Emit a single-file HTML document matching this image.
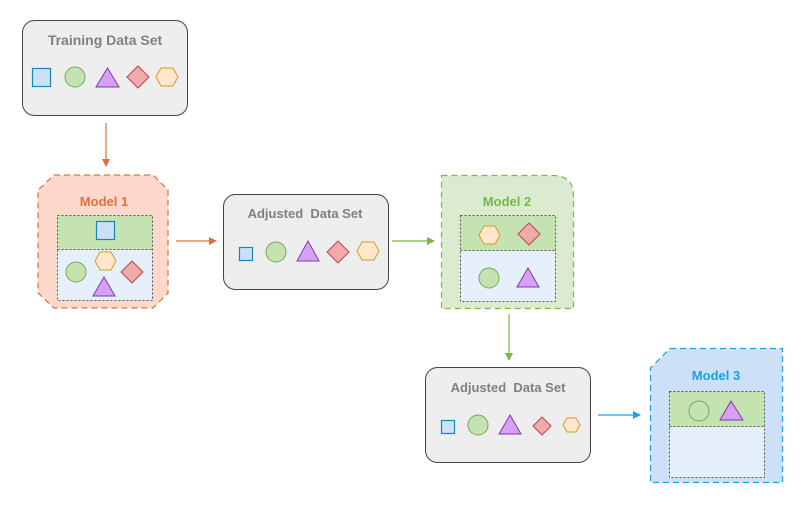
<!DOCTYPE html>
<html><head><meta charset="utf-8"><style>
html,body{margin:0;padding:0;background:#fff;width:806px;height:505px;overflow:hidden}
text{font-family:"Liberation Sans",sans-serif;font-weight:bold;text-anchor:middle}
</style></head><body>
<svg width="806" height="505" viewBox="0 0 806 505" xmlns="http://www.w3.org/2000/svg">
<defs>
<marker id="ao" markerWidth="8" markerHeight="8" refX="7" refY="4" orient="auto" markerUnits="userSpaceOnUse"><path d="M0,0 L8,4 L0,8 Z" fill="#E07040"/></marker>
<marker id="ag" markerWidth="8" markerHeight="8" refX="7" refY="4" orient="auto" markerUnits="userSpaceOnUse"><path d="M0,0 L8,4 L0,8 Z" fill="#7AB648"/></marker>
<marker id="ab" markerWidth="8" markerHeight="8" refX="7" refY="4" orient="auto" markerUnits="userSpaceOnUse"><path d="M0,0 L8,4 L0,8 Z" fill="#1BA1E2"/></marker>
</defs>

<rect x="22.5" y="20.5" width="165" height="95" rx="12" fill="#EEEEEE" stroke="#444" stroke-width="1"/>
<text x="105" y="45" font-size="14" fill="#808080">Training Data Set</text>
<rect x="32.5" y="68.5" width="18" height="18" fill="#CCE1F7" stroke="#1B84B8" stroke-width="1.2"/>
<circle cx="75" cy="77" r="10" fill="#C5E3B0" stroke="#78A85A"/>
<polygon points="107.5,68 119,87 96,87" fill="#D8A0F5" stroke="#7D3BA8"/>
<polygon points="138,66 149,77 138,88 127,77" fill="#F0AAAA" stroke="#B8484F"/>
<polygon points="161,68 173,68 178,77 173,86 161,86 156,77" fill="#FFE6CC" stroke="#D49B2A"/>

<line x1="106" y1="123" x2="106" y2="166" stroke="#E07040" stroke-width="1.2" marker-end="url(#ao)"/>

<polygon points="54,175 153,175 168,190 168,293 153,308 54,308 38,293 38,190" fill="#FFD8CC" stroke="#E07040" stroke-width="1.2" stroke-dasharray="6,4"/>
<text x="104" y="206" font-size="13" fill="#E07040">Model 1</text>
<rect x="57.5" y="215.5" width="95" height="34" fill="#C5E3B0"/>
<rect x="57.5" y="249.5" width="95" height="51" fill="#E6F0FA"/>
<rect x="57.5" y="215.5" width="95" height="85" fill="none" stroke="#555" stroke-dasharray="2,2"/>
<line x1="57.5" y1="249.5" x2="152.5" y2="249.5" stroke="#555" stroke-dasharray="2,2"/>
<rect x="96.5" y="221.5" width="18" height="18" fill="#CCE1F7" stroke="#1B84B8" stroke-width="1.2"/>
<polygon points="100,252 111,252 116,261 111,270 100,270 95,261" fill="#FFE6CC" stroke="#D49B2A"/>
<circle cx="76" cy="272" r="10" fill="#C5E3B0" stroke="#78A85A"/>
<polygon points="132,261 143,272 132,283 121,272" fill="#F0AAAA" stroke="#B8484F"/>
<polygon points="104,277 115,296 93,296" fill="#D8A0F5" stroke="#7D3BA8"/>

<line x1="176" y1="241" x2="216" y2="241" stroke="#E07040" stroke-width="1.2" marker-end="url(#ao)"/>

<rect x="223.5" y="194.5" width="165" height="95" rx="12" fill="#EEEEEE" stroke="#444"/>
<text x="305" y="218" font-size="13" fill="#808080">Adjusted&#160; Data Set</text>
<rect x="239.5" y="247.5" width="13" height="13" fill="#CCE1F7" stroke="#1B84B8" stroke-width="1.2"/>
<circle cx="276" cy="252" r="10" fill="#C5E3B0" stroke="#78A85A"/>
<polygon points="308,241 319,261 297,261" fill="#D8A0F5" stroke="#7D3BA8"/>
<polygon points="338,241 349,252 338,263 327,252" fill="#F0AAAA" stroke="#B8484F"/>
<polygon points="362,242 374,242 379,251 374,260 362,260 357,251" fill="#FFE6CC" stroke="#D49B2A"/>

<line x1="392" y1="241" x2="434" y2="241" stroke="#7AB648" stroke-width="1.2" marker-end="url(#ag)"/>

<path d="M441.5,175.5 L553,175.5 Q573.5,175.5 573.5,196 L573.5,308.5 L441.5,308.5 Z" fill="#DAEBD0" stroke="#7AB648" stroke-width="1.2" stroke-dasharray="6,4"/>
<text x="507" y="206" font-size="13" fill="#7AB648">Model 2</text>
<rect x="460.5" y="215.5" width="95" height="35" fill="#C5E3B0"/>
<rect x="460.5" y="250.5" width="95" height="51" fill="#E6F0FA"/>
<rect x="460.5" y="215.5" width="95" height="86" fill="none" stroke="#555" stroke-dasharray="2,2"/>
<line x1="460.5" y1="250.5" x2="555.5" y2="250.5" stroke="#555" stroke-dasharray="2,2"/>
<polygon points="484,226 495,226 500,235 495,244 484,244 479,235" fill="#FFE6CC" stroke="#D49B2A"/>
<polygon points="529,223 540,234 529,245 518,234" fill="#F0AAAA" stroke="#B8484F"/>
<circle cx="489" cy="278" r="10" fill="#C5E3B0" stroke="#78A85A"/>
<polygon points="528,268 539,287 517,287" fill="#D8A0F5" stroke="#7D3BA8"/>

<line x1="509" y1="314" x2="509" y2="360" stroke="#7AB648" stroke-width="1.2" marker-end="url(#ag)"/>

<rect x="425.5" y="367.5" width="165" height="95" rx="12" fill="#EEEEEE" stroke="#444"/>
<text x="508" y="392" font-size="13" fill="#808080">Adjusted&#160; Data Set</text>
<rect x="441.5" y="420.5" width="13" height="13" fill="#CCE1F7" stroke="#1B84B8" stroke-width="1.2"/>
<circle cx="478" cy="425" r="10" fill="#C5E3B0" stroke="#78A85A"/>
<polygon points="510,415 521,434 499,434" fill="#D8A0F5" stroke="#7D3BA8"/>
<polygon points="542,417 551,426 542,435 533,426" fill="#F0AAAA" stroke="#B8484F"/>
<polygon points="567,418 576,418 580,425 576,432 567,432 563,425" fill="#FFE6CC" stroke="#D49B2A"/>

<line x1="598" y1="415" x2="640" y2="415" stroke="#1BA1E2" stroke-width="1.2" marker-end="url(#ab)"/>

<polygon points="670,348.5 782.5,348.5 782.5,482.5 650.5,482.5 650.5,368" fill="#CCE1F7" stroke="#1BA1E2" stroke-width="1.2" stroke-dasharray="6,4"/>
<text x="716" y="380" font-size="13" fill="#1BA1E2">Model 3</text>
<rect x="669.5" y="391.5" width="95" height="35" fill="#C5E3B0"/>
<rect x="669.5" y="426.5" width="95" height="51" fill="#E6F0FA"/>
<rect x="669.5" y="391.5" width="95" height="86" fill="none" stroke="#555" stroke-dasharray="2,2"/>
<line x1="669.5" y1="426.5" x2="764.5" y2="426.5" stroke="#555" stroke-dasharray="2,2"/>
<circle cx="699" cy="411" r="10" fill="#C5E3B0" stroke="#78A85A"/>
<polygon points="731,401 743,420 720,420" fill="#D8A0F5" stroke="#7D3BA8"/>
</svg>
</body></html>
